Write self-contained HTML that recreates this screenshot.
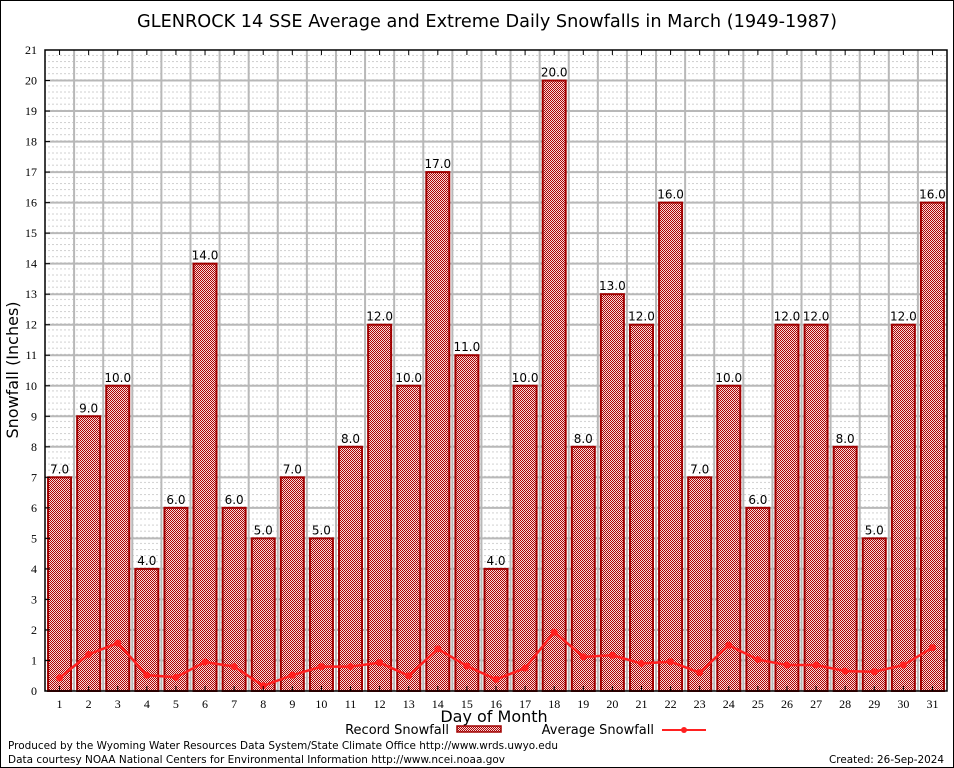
<!DOCTYPE html>
<html><head><meta charset="utf-8"><style>
body{margin:0;background:#fff;}
svg{display:block;font-family:"DejaVu Sans","Liberation Sans",sans-serif;}
</style></head><body>
<svg id="c" width="954" height="768" viewBox="0 0 954 768">
<defs>
<pattern id="chk" width="2" height="2" patternUnits="userSpaceOnUse"><rect width="2" height="2" fill="#f4dcdc"/><rect width="1" height="1" fill="#b00000"/><rect x="1" y="1" width="1" height="1" fill="#b00000"/></pattern>
<pattern id="dots" width="4" height="6.1" patternUnits="userSpaceOnUse"><rect width="2" height="1" fill="#d0d0d0"/></pattern>
</defs>
<rect x="0.5" y="0.5" width="953" height="767" fill="#fff" stroke="#000"/>
<text x="487" y="27" font-size="17.5" text-anchor="middle" textLength="700" lengthAdjust="spacingAndGlyphs">GLENROCK 14 SSE Average and Extreme Daily Snowfalls in March (1949-1987)</text>
<rect x="45" y="50" width="902" height="641" fill="url(#dots)"/>
<g id="grid"></g>
<g id="bars"></g>
<g id="avg"></g>
<g id="axes"></g>
<text x="18" y="370" font-size="16" text-anchor="middle" transform="rotate(-90 18 370)">Snowfall (Inches)</text>
<text x="494" y="722" font-size="16" text-anchor="middle">Day of Month</text>
<g><text x="449" y="734" font-size="13" text-anchor="end">Record Snowfall</text><rect x="457" y="726" width="44" height="6" fill="url(#chk)" stroke="#a00000" stroke-width="1.5"/></g>
<g><text x="654" y="734" font-size="13" text-anchor="end">Average Snowfall</text><line x1="662" y1="730" x2="706" y2="730" stroke="#ff2020" stroke-width="2"/><circle cx="684" cy="730" r="3" fill="#ff2020"/></g>
<text x="8" y="749" font-size="11" textLength="550" lengthAdjust="spacingAndGlyphs">Produced by the Wyoming Water Resources Data System/State Climate Office http://www.wrds.uwyo.edu</text>
<text x="8" y="763" font-size="11" textLength="497" lengthAdjust="spacingAndGlyphs">Data courtesy NOAA National Centers for Environmental Information http://www.ncei.noaa.gov</text>
<text x="944" y="763" font-size="11" text-anchor="end" textLength="115" lengthAdjust="spacingAndGlyphs">Created: 26-Sep-2024</text>
</svg>
<script>
const days=[1,2,3,4,5,6,7,8,9,10,11,12,13,14,15,16,17,18,19,20,21,22,23,24,25,26,27,28,29,30,31];
const records=[7,9,10,4,6,14,6,5,7,5,8,12,10,17,11,4,10,20,8,13,12,16,7,10,6,12,12,8,5,12,16];
const averages=[0.43,1.2,1.57,0.52,0.45,0.95,0.8,0.17,0.52,0.8,0.8,0.93,0.5,1.38,0.82,0.38,0.75,1.93,1.12,1.17,0.9,0.96,0.6,1.5,1.03,0.85,0.85,0.65,0.63,0.85,1.42];
const yTicks=[0,1,2,3,4,5,6,7,8,9,10,11,12,13,14,15,16,17,18,19,20,21];
const NS='http://www.w3.org/2000/svg';
const L=45,R=947,T=50,B=691;
const x=d=>L+(d-0.5)*(R-L)/31;
const y=v=>B-v*(B-T)/21;
function mk(t,a,p){const e=document.createElementNS(NS,t);for(const k in a)e.setAttribute(k,a[k]);p.appendChild(e);return e;}
const grid=document.getElementById('grid'),bars=document.getElementById('bars'),avg=document.getElementById('avg'),axes=document.getElementById('axes');
yTicks.forEach(v=>{
  if(v>0&&v<21){const g=mk('line',{x1:L,x2:R,y1:y(v),y2:y(v),stroke:'#b8b8b8','stroke-width':2},grid);
  
  }
  const t=mk('text',{x:L-8,y:y(v)+4,'font-size':12,'text-anchor':'end','font-family':'Liberation Serif,serif'},axes);t.textContent=v;
  
  
  mk('line',{x1:L,x2:L+5,y1:y(v),y2:y(v),stroke:'#000'},axes);
});
for(let i=1;i<31;i++){const g=mk('line',{x1:x(i+0.5),x2:x(i+0.5),y1:T,y2:B,stroke:'#b8b8b8','stroke-width':2},grid);
  
  }
days.forEach((d,i)=>{
  const r=mk('rect',{x:x(d)-11.5,y:y(records[i]),width:23,height:B-y(records[i]),fill:'url(#chk)',stroke:'#a00000','stroke-width':2},bars);
  
  
  const t=mk('text',{x:x(d),y:y(records[i])-4,'font-size':12,'text-anchor':'middle'},bars);t.textContent=records[i].toFixed(1);
  
  
  const xl=mk('text',{x:x(d),y:B+17,'font-size':12,'text-anchor':'middle','font-family':'Liberation Serif,serif'},axes);xl.textContent=d;
  
  
  mk('line',{x1:x(d),x2:x(d),y1:B,y2:B-5,stroke:'#000'},axes);
  mk('line',{x1:x(d),x2:x(d),y1:T,y2:T+5,stroke:'#000'},axes);
});
const pl=mk('polyline',{points:days.map((d,i)=>x(d)+','+y(averages[i])).join(' '),fill:'none',stroke:'#ff2020','stroke-width':2.5},avg);


days.forEach((d,i)=>{const c=mk('circle',{cx:x(d),cy:y(averages[i]),r:3.5,fill:'#ff2020'},avg);
  
  });
const ax=mk('rect',{x:L,y:T,width:R-L,height:B-T,fill:'none',stroke:'#000','stroke-width':1.5},axes);


</script>
</body></html>
